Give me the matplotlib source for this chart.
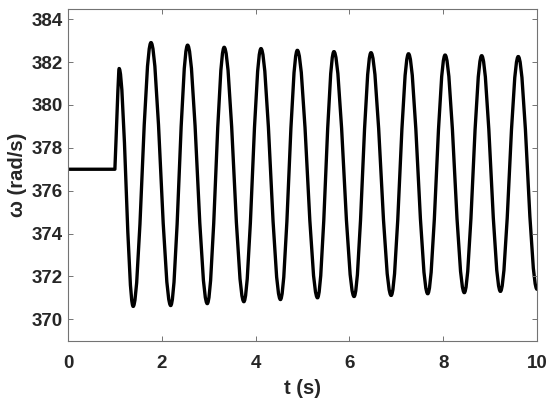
"""Rotor speed response after a disturbance at t = 1 s."""

import matplotlib
matplotlib.use("Agg")
import matplotlib.pyplot as plt
from matplotlib.path import Path
from matplotlib.patches import PathPatch

# values
omega_initial = 377.0
t_disturbance = 1.0
peak_t = [1.09, 1.77, 2.55, 3.33, 4.115, 4.89, 5.67, 6.46, 7.26, 8.04, 8.82, 9.60]
peak_w = [381.7, 382.91, 382.79, 382.69, 382.63, 382.55, 382.49, 382.44,
          382.39, 382.33, 382.30, 382.26]
trough_t = [1.39, 2.19, 2.97, 3.75, 4.53, 5.32, 6.10, 6.89, 7.67, 8.45, 9.22]
trough_w = [370.60, 370.64, 370.73, 370.82, 370.92, 371.00, 371.06, 371.11,
            371.19, 371.24, 371.30]
t_end, omega_end = 10.0, 371.4

x_ticks = [0, 2, 4, 6, 8, 10]
y_ticks = [370, 372, 374, 376, 378, 380, 382, 384]

# smooth half-wave drawn as a cubic bezier between two extremes
K = 0.3634


def half_wave(p0, p1):
    dt = p1[0] - p0[0]
    return [(p0[0] + K * dt, p0[1]), (p1[0] - K * dt, p1[1]), p1]


def build_path():
    verts = [(0.0, omega_initial), (t_disturbance, omega_initial)]
    codes = [Path.MOVETO, Path.LINETO]
    # steep rise into the first spike
    p0 = (t_disturbance, omega_initial)
    p1 = (peak_t[0], peak_w[0])
    dt, dw = p1[0] - p0[0], p1[1] - p0[1]
    verts += [(p0[0] + dt / 3, p0[1] + dw / 3), (p1[0] - 0.15 * dt, p1[1]), p1]
    codes += [Path.CURVE4] * 3

    extremes = []
    for i in range(len(peak_t)):
        extremes.append((peak_t[i], peak_w[i]))
        if i < len(trough_t):
            extremes.append((trough_t[i], trough_w[i]))
    extremes.append((t_end, omega_end))

    for a, b in zip(extremes[:-1], extremes[1:]):
        verts += half_wave(a, b)
        codes += [Path.CURVE4] * 3
    return Path(verts, codes)


plt.rcParams["font.family"] = ["Liberation Sans", "DejaVu Sans"]
plt.rcParams["font.weight"] = "bold"

fig = plt.figure(figsize=(5.5, 4.03), dpi=100)
ax = fig.add_axes([0.1236, 0.1546, 0.8528, 0.8243])

ax.add_patch(PathPatch(build_path(), fill=False, edgecolor="black",
                       linewidth=2.4, capstyle="round", joinstyle="round"))

ax.set_xlim(0, 10)
ax.set_ylim(369, 384.5)
ax.set_xticks(x_ticks)
ax.set_yticks(y_ticks)
ax.set_xticklabels([str(v) for v in x_ticks])
ax.set_yticklabels([str(v) for v in y_ticks])

for side in ax.spines.values():
    side.set_color("0.45")
    side.set_linewidth(0.8)

ax.tick_params(direction="in", length=3.5, width=0.7, color="0.45",
               top=True, right=True, labelsize=13.5, labelcolor="#262626")
ax.tick_params(axis="x", pad=10)
ax.tick_params(axis="y", pad=4)

ax.set_xlabel("t (s)", fontsize=14.5, fontweight="bold", color="#262626",
              labelpad=5)
ax.set_ylabel("ω (rad/s)", fontsize=14.5, fontweight="bold", color="#262626",
              labelpad=3)

fig.savefig("out.png", dpi=100)
